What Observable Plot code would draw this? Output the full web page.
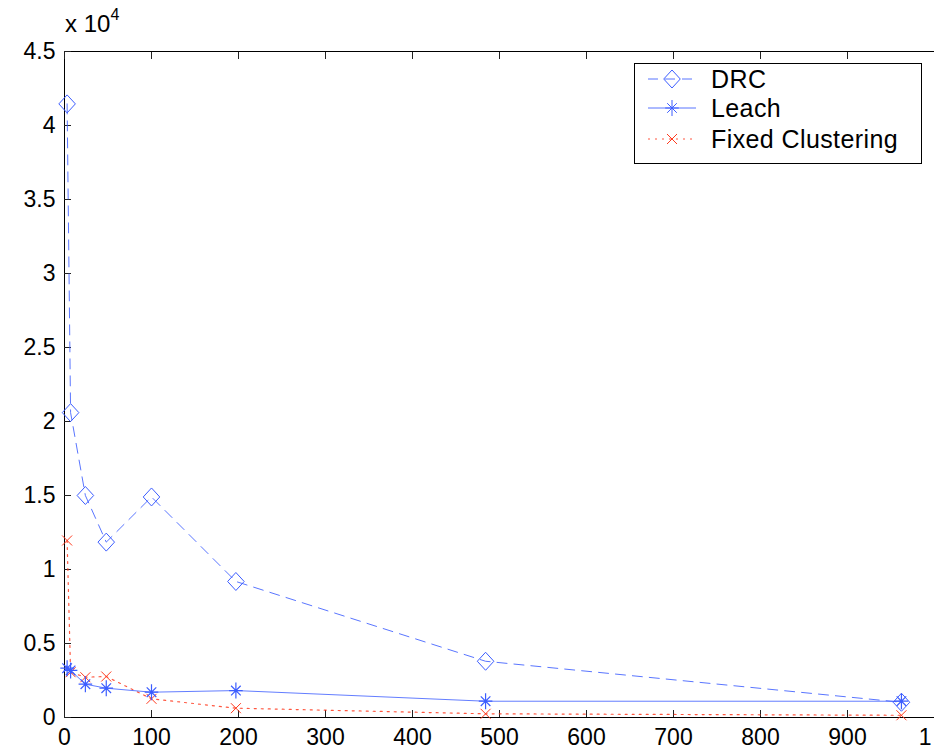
<!DOCTYPE html>
<html>
<head>
<meta charset="utf-8">
<script src="https://cdn.jsdelivr.net/npm/d3@7"></script>
<script src="https://cdn.jsdelivr.net/npm/@observablehq/plot@0.6"></script>
<style>
  html, body { margin: 0; padding: 0; background: #fff; }
  #wrap { position: relative; width: 934px; height: 749px; overflow: hidden; font-family: "Liberation Sans", Arial, sans-serif; }
  #scale { position: absolute; left: 65px; top: 9px; font-size: 24px; color: #000; }
  #scale sup { font-size: 16px; position: relative; top: -3px; }
  #legend { position: absolute; left: 634px; top: 63px; }
</style>
</head>
<body>
<div id="wrap">
  <div id="chart"></div>
  <div id="scale">x 10<sup>4</sup></div>
  <svg id="legend" width="290" height="102"></svg>
</div>
<script>
// Data
const xs = [3, 7, 24, 48, 100, 197, 484, 962];
const drc = [41460, 20600, 15000, 11850, 14900, 9190, 3800, 1030];
const leach = [3330, 3180, 2250, 1980, 1710, 1820, 1100, 1100];
const fixedClustering = [11960, 3060, 2720, 2770, 1260, 630, 250, 150];
const seriesNames = ["DRC", "Leach", "Fixed Clustering"];
const xTicks = [0, 100, 200, 300, 400, 500, 600, 700, 800, 900, 1000];
const xTickLabels = ["0", "100", "200", "300", "400", "500", "600", "700", "800", "900", "1"];
const yTicks = [0, 5000, 10000, 15000, 20000, 25000, 30000, 35000, 40000, 45000];

const blue = "#3c5dff";
const red = "#ff3a1e";

const diamond = {
  draw(ctx, size) {
    const r = Math.sqrt(size / Math.PI);
    ctx.moveTo(0, -r); ctx.lineTo(r * 0.92, 0); ctx.lineTo(0, r); ctx.lineTo(-r * 0.92, 0); ctx.closePath();
  }
};
const asterisk = {
  draw(ctx, size) {
    const r = Math.sqrt(size / Math.PI);
    const d = r * 0.6;
    ctx.moveTo(-r * 0.85, 0); ctx.lineTo(r * 0.85, 0);
    ctx.moveTo(0, -r); ctx.lineTo(0, r);
    ctx.moveTo(-d, -d); ctx.lineTo(d, d);
    ctx.moveTo(-d, d); ctx.lineTo(d, -d);
  }
};
const cross = {
  draw(ctx, size) {
    const r = Math.sqrt(size / Math.PI);
    ctx.moveTo(-r, -r); ctx.lineTo(r, r);
    ctx.moveTo(-r, r); ctx.lineTo(r, -r);
  }
};

const rows = (ys) => xs.map((x, i) => ({x, y: ys[i]}));
const dDRC = rows(drc), dLeach = rows(leach), dFixed = rows(fixedClustering);
const lastTick = xTicks.length - 1;

const fontSize = 23;
const chart = Plot.plot({
  width: 934,
  height: 749,
  marginLeft: 64,
  marginTop: 51,
  marginBottom: 32,
  marginRight: 0,
  style: {fontFamily: '"Liberation Sans", Arial, sans-serif', fontSize: fontSize + "px", overflow: "hidden", background: "#fff", color: "#000"},
  x: {domain: [0, 1000]},
  y: {domain: [0, 45000]},
  marks: [
    Plot.ruleY([45000], {stroke: "#000", strokeWidth: 1}),
    Plot.ruleY([0], {stroke: "#000", strokeWidth: 1}),
    Plot.ruleX([0], {stroke: "#000", strokeWidth: 1}),
    Plot.axisX({anchor: "bottom", ticks: xTicks, tickSize: 7, dy: -7, text: null, label: null, stroke: "#222"}),
    Plot.axisX(xTicks.slice(0, lastTick), {anchor: "bottom", tickSize: 0, tickPadding: 11, fontSize, label: null,
      tickFormat: d => xTickLabels[xTicks.indexOf(d)]}),
    Plot.text([xTicks[lastTick]], {x: d => d, frameAnchor: "bottom", lineAnchor: "top", textAnchor: "end",
      dx: -3, dy: 11, fontSize, text: () => xTickLabels[lastTick]}),
    Plot.axisX({anchor: "top", ticks: xTicks, tickSize: 7, dy: 7, text: null, label: null, stroke: "#222"}),
    Plot.axisY({anchor: "left", ticks: yTicks, tickSize: 7, dx: 7, tickPadding: 9, fontSize, label: null, stroke: "#222",
      tickFormat: d => d3.format("")(d / 1e4)}),
    Plot.line(dFixed, {x: "x", y: "y", stroke: red, strokeWidth: 1.2, strokeDasharray: "2,5", strokeOpacity: 0.85}),
    Plot.line(dLeach, {x: "x", y: "y", stroke: blue, strokeWidth: 1, strokeOpacity: 0.8}),
    Plot.line(dDRC, {x: "x", y: "y", stroke: blue, strokeWidth: 1, strokeDasharray: "10,7", strokeOpacity: 0.85}),
    Plot.dot(dFixed, {x: "x", y: "y", symbol: cross, r: 5, stroke: red, strokeWidth: 1, fill: "none"}),
    Plot.dot(dLeach, {x: "x", y: "y", symbol: asterisk, r: 8, stroke: blue, strokeWidth: 1.2, fill: "none"}),
    Plot.dot(dDRC, {x: "x", y: "y", symbol: diamond, r: 9, stroke: blue, strokeWidth: 1, fill: "none"})
  ]
});
document.getElementById("chart").appendChild(chart);

// Legend box
const lg = d3.select("#legend");
lg.append("rect").attr("x", 0.5).attr("y", 0.5).attr("width", 287).attr("height", 100)
  .attr("fill", "#fff").attr("stroke", "#000").attr("stroke-width", 1);
const styles = [
  {stroke: blue, dash: "10,7", sym: diamond, r: 9, op: 0.85},
  {stroke: blue, dash: null, sym: asterisk, r: 8, op: 0.85},
  {stroke: red, dash: "2,5", sym: cross, r: 5, op: 0.85}
];
const rowY = [16, 45, 76];
seriesNames.forEach((name, i) => {
  const s = styles[i];
  const g = lg.append("g").attr("transform", `translate(0,${rowY[i]})`);
  g.append("line").attr("x1", 14).attr("x2", 62).attr("y1", 0).attr("y2", 0)
    .attr("stroke", s.stroke).attr("stroke-opacity", s.op).attr("stroke-width", 1)
    .attr("stroke-dasharray", s.dash);
  g.append("path").attr("transform", "translate(38,0)")
    .attr("d", d3.symbol(s.sym, s.r * s.r * Math.PI)())
    .attr("fill", "none").attr("stroke", s.stroke).attr("stroke-width", 1);
  g.append("text").attr("x", 77).attr("y", 0).attr("dy", "0.35em")
    .attr("font-family", '"Liberation Sans", Arial, sans-serif').attr("font-size", 25)
    .attr("letter-spacing", "0.4px")
    .attr("fill", "#000").text(name);
});
</script>
</body>
</html>
